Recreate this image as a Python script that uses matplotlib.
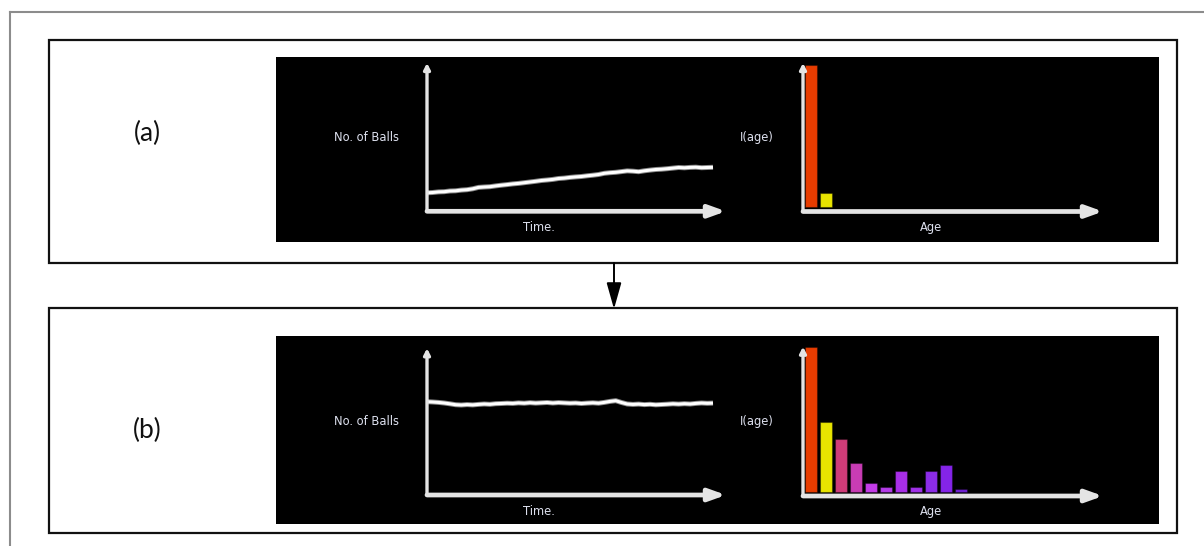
import matplotlib
matplotlib.use("Agg")
import matplotlib.pyplot as plt
from matplotlib.patches import Rectangle

W, H = 1204, 546

# number of balls over time (pixel-height units)
time_pts = list(range(0, 101, 2))
balls_a = [18.5, 18.8, 19.4, 19.6, 20.3, 20.5, 21.2, 21.6, 22.5, 23.9,
           24.3, 24.6, 25.4, 26.1, 26.7, 27.4, 27.9, 28.6, 29.3, 30.0,
           30.8, 31.3, 31.9, 32.8, 33.2, 33.9, 34.4, 34.8, 35.5, 36.1,
           36.8, 38.0, 38.6, 39.0, 39.7, 40.4, 40.1, 39.6, 40.5, 41.2,
           41.8, 42.1, 42.6, 43.2, 43.8, 43.5, 43.9, 44.1, 43.6, 43.8, 44.0]
balls_b = [93.3, 93.0, 92.6, 92.0, 91.2, 90.3, 90.0, 90.4, 90.1, 90.6,
           91.0, 90.7, 91.3, 91.5, 91.8, 91.6, 92.1, 91.8, 92.3, 91.9,
           92.2, 92.5, 92.0, 92.4, 92.1, 91.8, 92.0, 91.5, 91.9, 92.2,
           91.8, 92.6, 93.6, 94.3, 92.5, 91.0, 90.6, 90.9, 90.4, 90.7,
           90.2, 90.5, 90.8, 91.2, 90.9, 91.3, 91.0, 91.6, 92.0, 91.7, 91.9]

# I(age) histograms
ages_a = [0, 1]
iage_a = [142.5, 14.5]
colors_a = ['#e83c00', '#e8e400']
ages_b = [0, 1, 2, 3, 4, 5, 6, 7, 8, 9, 10]
iage_b = [144.4, 70, 52.7, 28.3, 9, 4.3, 20.7, 4.3, 20.7, 26.3, 2.7]
colors_b = ['#e83c00', '#e8e400', '#d03c78', '#c83cb4', '#c43ce8', '#b43ce8',
            '#a82ee8', '#a030e8', '#8c2ce8', '#8424e8', '#7020d4']

panel_labels = ['(a)', '(b)']


def px_axes(x0, y0, x1, y1):
    a = fig.add_axes([x0 / W, 1 - y1 / H, (x1 - x0) / W, (y1 - y0) / H])
    a.set_facecolor('none')
    a.axis('off')
    return a


def draw_arrows(a):
    grey = '#e4e4e4'
    a.annotate('', xy=(1, 0), xytext=(0, 0), xycoords='axes fraction',
               arrowprops=dict(arrowstyle='-|>,head_length=1.0,head_width=0.36',
                               mutation_scale=10, lw=3.4, color=grey,
                               shrinkA=0, shrinkB=0), annotation_clip=False)
    a.annotate('', xy=(0, 1), xytext=(0, 0), xycoords='axes fraction',
               arrowprops=dict(arrowstyle='-|>,head_length=0.35,head_width=0.18',
                               mutation_scale=10, lw=2.4, color=grey,
                               shrinkA=0, shrinkB=0), annotation_clip=False)


fig = plt.figure(figsize=(W / 100, H / 100), dpi=100)
ax0 = fig.add_axes([0, 0, 1, 1])
ax0.set_xlim(0, W)
ax0.set_ylim(H, 0)
ax0.axis('off')

# outer page frame
ax0.plot([10, W], [12, 12], color='#8c8c8c', lw=1.5)
ax0.plot([10, 10], [12, H], color='#8c8c8c', lw=1.5)

# panel boxes + black screenshots
for top, bot, img_top, img_bot, lab, ly in [(40, 263, 57, 242, panel_labels[0], 133),
                                            (308, 533, 336, 524, panel_labels[1], 430)]:
    ax0.add_patch(Rectangle((49, top), 1128, bot - top, fill=False, ec='#111111', lw=1.6))
    ax0.add_patch(Rectangle((276, img_top), 883, img_bot - img_top, color='black', lw=0))
    ax0.text(147, ly, lab, fontsize=19, family=['Lato', 'DejaVu Sans'],
             ha='center', va='center', color='#111111')

ax0.annotate('', xy=(614, 309), xytext=(614, 263),
             arrowprops=dict(arrowstyle='-|>,head_length=1.6,head_width=0.45',
                             mutation_scale=10, lw=1.4, color='black',
                             shrinkA=0, shrinkB=0))

txt = dict(fontsize=8.3, color='#dde0ee', ha='center', va='center', family='DejaVu Sans')
for ly_lab, ly_x in [(137.5, 227.5), (421.5, 511.5)]:
    ax0.text(366, ly_lab, 'No. of Balls', **txt)
    ax0.text(757, ly_lab, 'I(age)', **txt)
    ax0.text(539, ly_x, 'Time.', **txt)
    ax0.text(931, ly_x, 'Age', **txt)

# line plots
for (y_top, y_bot), vals in [((63, 211.3), balls_a), ((348.3, 495), balls_b)]:
    a = px_axes(427, y_top, 726, y_bot)
    a.set_xlim(0, 100 * 299 / 286)
    a.set_ylim(0, y_bot - y_top)
    a.plot(time_pts, vals, color='#8a8a8a', lw=3.6, solid_capstyle='butt')
    a.plot(time_pts, vals, color='white', lw=2.2, solid_capstyle='butt')
    draw_arrows(a)

# age histograms
for (y_top, y_bot, off), ages, vals, cols in [((63, 211.5, 4.5), ages_a, iage_a, colors_a),
                                             ((346.7, 496, 4.3), ages_b, iage_b, colors_b)]:
    a = px_axes(803, y_top, 1103, y_bot)
    a.set_xlim(-0.533, -0.533 + 20)
    a.set_ylim(-off, y_bot - y_top - off)
    a.bar(ages, vals, width=0.85, color=cols, edgecolor='#00000055', lw=0.8, zorder=3)
    draw_arrows(a)

fig.savefig('out.png', dpi=100, facecolor='white')
